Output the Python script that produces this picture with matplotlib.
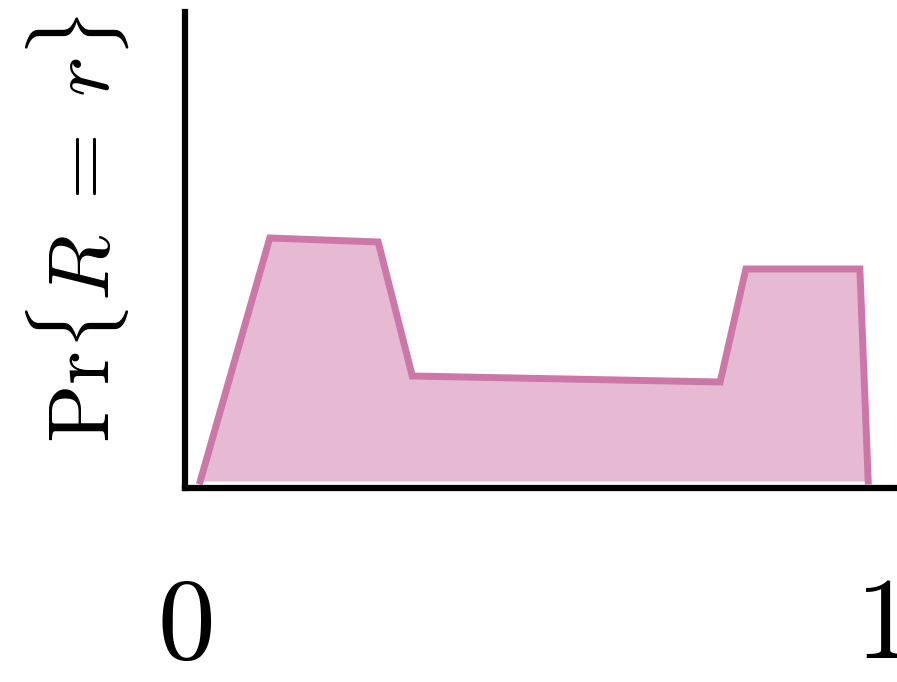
import matplotlib
matplotlib.use("Agg")
import matplotlib.pyplot as plt
import numpy as np

# piecewise density of the reward r on [0, 1]
r = [0.022, 0.122, 0.278, 0.327, 0.770, 0.807, 0.971, 0.983]
pr = [0.0, 2.43, 2.39, 1.05, 0.99, 2.12, 2.12, 0.0]
tick_pos = [0, 1]
tick_labels = ["0", "1"]

plt.rcParams["mathtext.fontset"] = "cm"
plt.rcParams["font.family"] = "serif"
plt.rcParams["font.serif"] = ["DejaVu Serif"]

line_col = "#cc77a8"
fill_col = "#e6bad3"

fig = plt.figure(figsize=(8.97, 6.82), dpi=100)
ax = fig.add_axes([185 / 897, 194 / 682, 725 / 897, 476 / 682])

ax.fill_between(r, pr, 0, color=fill_col, lw=0, zorder=1)
ax.plot(r, pr, color=line_col, lw=5, solid_joinstyle="miter", zorder=2)

ax.set_xlim(0, 725 / 695)
ax.set_ylim(-0.07, 4.69)

for s in ["top", "right"]:
    ax.spines[s].set_visible(False)
for s in ["left", "bottom"]:
    ax.spines[s].set_linewidth(4.5)
    ax.spines[s].set_capstyle("projecting")

ax.set_yticks([])
ax.set_xticks(tick_pos)
ax.set_xticklabels([f"${t}$" for t in tick_labels], fontsize=83)
ax.tick_params(axis="x", length=0, pad=60)

ax.set_ylabel(r"$\mathrm{Pr}\{R\;=\;r\}$", fontsize=62)
ax.yaxis.set_label_coords(-0.075, 0.545)

fig.savefig("out.png", dpi=100)
